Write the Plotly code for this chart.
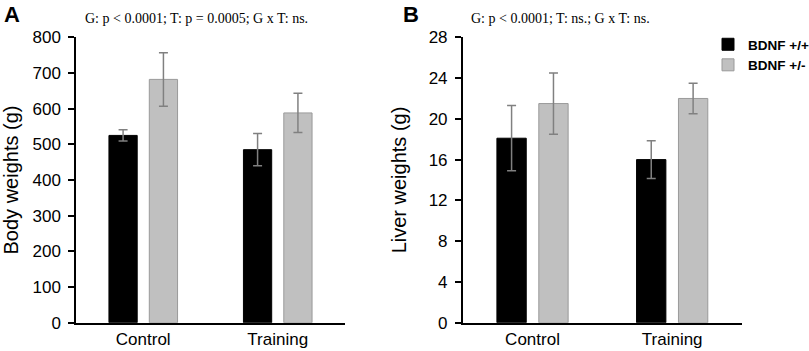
import plotly.graph_objects as go

categories = ["Control", "Training"]
series_names = ["BDNF +/+", "BDNF +/-"]

body_wt = [525, 485]
body_wt_err = [16, 45]
body_het = [682, 588]
body_het_err = [75, 55]

liver_wt = [18.1, 16.0]
liver_wt_err = [3.2, 1.85]
liver_het = [21.5, 22.0]
liver_het_err = [3.0, 1.5]

stats_a = "G: p < 0.0001; T: p = 0.0005; G x T: ns."
stats_b = "G: p < 0.0001; T: ns.; G x T: ns."

SANS = "Liberation Sans, Arial, sans-serif"
SERIF = "Liberation Serif, Times New Roman, serif"
BLACK = "#000000"
GREY = "#c0c0c0"
GREY_LINE = "#9a9a9a"
ERR = "#808080"

fig = go.Figure()

def add_bars(x_ax, y_ax, wt, wt_err, het, het_err, show):
    fig.add_trace(go.Bar(
        x=categories, y=wt, name=series_names[0], legendgroup="wt", showlegend=show,
        marker=dict(color=BLACK, line=dict(color=BLACK, width=1)),
        error_y=dict(type="data", array=wt_err, color=ERR, thickness=1.5, width=4.5),
        xaxis=x_ax, yaxis=y_ax))
    fig.add_trace(go.Bar(
        x=categories, y=het, name=series_names[1], legendgroup="het", showlegend=show,
        marker=dict(color=GREY, line=dict(color=GREY_LINE, width=1)),
        error_y=dict(type="data", array=het_err, color=ERR, thickness=1.5, width=4.5),
        xaxis=x_ax, yaxis=y_ax))

add_bars("x", "y", body_wt, body_wt_err, body_het, body_het_err, False)
add_bars("x2", "y2", liver_wt, liver_wt_err, liver_het, liver_het_err, True)

W, H = 809, 351
y_dom = [(H - 322.7) / H, (H - 37.3) / H]

xcommon = dict(range=[-0.5, 1.5], showline=True, linecolor="black", linewidth=1.5,
               ticks="", showgrid=False, zeroline=False, automargin=False,
               tickfont=dict(family=SANS, size=17, color="black"), ticklabelstandoff=0)
ycommon = dict(showline=True, linecolor="black", linewidth=1.5, ticks="outside",
               ticklen=6, tickwidth=1.5, tickcolor="black", showgrid=False, zeroline=False,
               automargin=False,
               tickfont=dict(family=SANS, size=17, color="black"), ticklabelstandoff=4,
               domain=y_dom)

fig.update_layout(
    width=W, height=H,
    margin=dict(l=0, r=0, t=0, b=0, pad=0, autoexpand=False),
    paper_bgcolor="white", plot_bgcolor="white",
    barmode="group", bargap=0.4, bargroupgap=0.3,
    xaxis=dict(domain=[76 / W, 345 / W], anchor="y", **xcommon),
    xaxis2=dict(domain=[462.7 / W, 742 / W], anchor="y2", **xcommon),
    yaxis=dict(range=[0, 800], dtick=100, anchor="x",
               title=dict(text="Body weights (g)", font=dict(family=SANS, size=20, color="black"), standoff=17),
               **ycommon),
    yaxis2=dict(range=[0, 28], dtick=4, anchor="x2",
                title=dict(text="Liver weights (g)", font=dict(family=SANS, size=20, color="black"), standoff=17),
                **ycommon),
    legend=dict(x=708 / W, y=(H - 29) / H, xanchor="left", yanchor="top",
                bgcolor="rgba(0,0,0,0)", font=dict(family=SANS, size=13.5, color="black", weight="bold"),
                itemwidth=30, tracegroupgap=0),
    showlegend=True,
    annotations=[
        dict(text="<b>A</b>", x=2 / W, y=(H - 15) / H, xref="paper", yref="paper",
             xanchor="left", yanchor="middle", showarrow=False,
             font=dict(family=SANS, size=22, color="black")),
        dict(text="<b>B</b>", x=401 / W, y=(H - 15) / H, xref="paper", yref="paper",
             xanchor="left", yanchor="middle", showarrow=False,
             font=dict(family=SANS, size=22, color="black")),
        dict(text=stats_a, x=196.5 / W, y=(H - 18) / H, xref="paper", yref="paper",
             xanchor="center", yanchor="middle", showarrow=False,
             font=dict(family=SERIF, size=14, color="black")),
        dict(text=stats_b, x=560 / W, y=(H - 18) / H, xref="paper", yref="paper",
             xanchor="center", yanchor="middle", showarrow=False,
             font=dict(family=SERIF, size=14, color="black")),
    ],
)

fig.write_html("out.html",
               config={"displayModeBar": False},
               post_script="document.body.style.margin='0';document.body.style.overflow='hidden';")
